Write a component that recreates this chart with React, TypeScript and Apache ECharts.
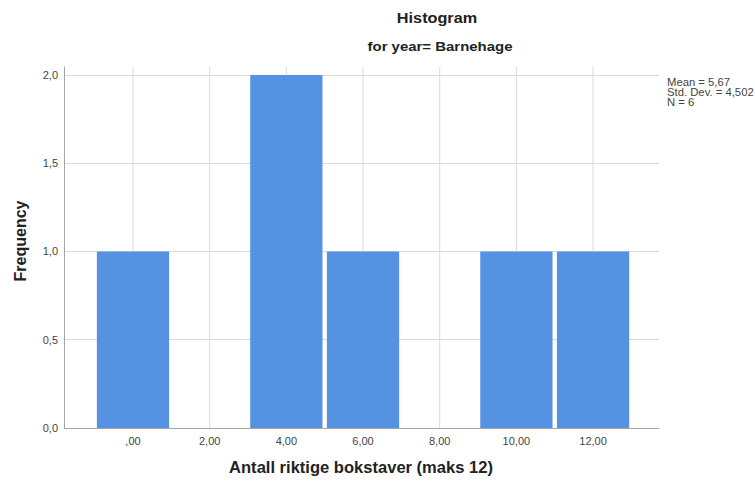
import React, { useEffect, useRef } from "react";
import * as echarts from "echarts";

// ---- data ----
const binCenters = [0, 2, 4, 6, 8, 10, 12];
const frequencies = [1, 0, 2, 1, 0, 1, 1];
const binWidth = 2;
const xTickValues = [0, 2, 4, 6, 8, 10, 12];
const statLines = ["Mean = 5,67", "Std. Dev. = 4,502", "N = 6"];
const titleText = "Histogram";
const subtitleText = "for year= Barnehage";
const xName = "Antall riktige bokstaver (maks 12)";
const yName = "Frequency";

const FONT = "'Liberation Sans', Arial, sans-serif";

export default function App() {
  const ref = useRef<HTMLDivElement>(null);
  useEffect(() => {
    document.body.style.margin = "0";
    if (!ref.current) return;
    const chart = echarts.init(ref.current, null, { renderer: "svg" });
    const barData = binCenters.map((c, i) => [c, frequencies[i]]).filter((d) => d[1] > 0);
    chart.setOption({
      animation: false,
      textStyle: { fontFamily: FONT },
      grid: { left: 64, right: 96, top: 67, bottom: 54, containLabel: false },
      xAxis: {
        type: "value",
        min: -1.8,
        max: 13.72,
        axisLine: { show: true, onZero: false, lineStyle: { color: "#a6a6a6", width: 1 } },
        axisTick: { show: false },
        splitLine: { show: false },
        axisLabel: {
          customValues: xTickValues,
          margin: 7,
          fontSize: 11,
          color: "#444",
          fontFamily: FONT,
          formatter: (v: number) => (v === 0 ? ",00" : v.toFixed(2).replace(".", ",")),
        },
      },
      yAxis: {
        type: "value",
        min: 0,
        max: 2.045,
        interval: 0.5,
        axisLine: { show: true, onZero: false, lineStyle: { color: "#a6a6a6", width: 1 } },
        axisTick: { show: false },
        splitLine: { show: true, showMaxLine: false, lineStyle: { color: "#dadada", width: 1 } },
        axisLabel: {
          showMaxLabel: false,
          margin: 6,
          fontSize: 11,
          color: "#444",
          fontFamily: FONT,
          formatter: (v: number) =>
            Math.abs(v * 2 - Math.round(v * 2)) < 1e-6 ? v.toFixed(1).replace(".", ",") : "",
        },
      },
      series: [
        {
          type: "custom",
          z: 1,
          silent: true,
          data: xTickValues.map((v) => [v, 0]),
          renderItem: (params: any, api: any) => {
            const p = api.coord([api.value(0), 0]);
            const cs = params.coordSys;
            return {
              type: "line",
              shape: { x1: p[0], y1: cs.y, x2: p[0], y2: cs.y + cs.height },
              style: { stroke: "#dadada", lineWidth: 1 },
            };
          },
        },
        {
          type: "custom",
          z: 3,
          data: barData,
          renderItem: (params: any, api: any) => {
            const x = api.value(0);
            const f = api.value(1);
            const tl = api.coord([x - binWidth / 2, f]);
            const br = api.coord([x + binWidth / 2, 0]);
            const inset = 2.2;
            return {
              type: "rect",
              shape: { x: tl[0] + inset, y: tl[1], width: br[0] - tl[0] - inset * 2, height: br[1] - tl[1] },
              style: { fill: "#5592e2" },
            };
          },
        },
      ],
      graphic: [
        {
          type: "text",
          x: 437,
          y: 18,
          scaleX: 1.16,
          style: { text: titleText, font: `bold 14px ${FONT}`, fill: "#222", align: "center", verticalAlign: "middle" },
        },
        {
          type: "text",
          x: 440,
          y: 46,
          scaleX: 1.15,
          style: { text: subtitleText, font: `bold 13px ${FONT}`, fill: "#222", align: "center", verticalAlign: "middle" },
        },
        {
          type: "text",
          x: 361,
          y: 467,
          scaleX: 1.035,
          style: { text: xName, font: `bold 16px ${FONT}`, fill: "#222", align: "center", verticalAlign: "middle" },
        },
        {
          type: "text",
          x: 20,
          y: 241,
          rotation: Math.PI / 2,
          style: { text: yName, font: `bold 16px ${FONT}`, fill: "#222", align: "center", verticalAlign: "middle" },
        },
        ...statLines.map((t, i) => ({
          type: "text",
          x: 667,
          y: 82.5 + i * 10,
          scaleX: 1.13,
          style: { text: t, font: `10px ${FONT}`, fill: "#444", align: "left", verticalAlign: "middle" },
        })),
      ],
    });
    return () => chart.dispose();
  }, []);
  return <div ref={ref} style={{ width: 755, height: 482 }} />;
}
